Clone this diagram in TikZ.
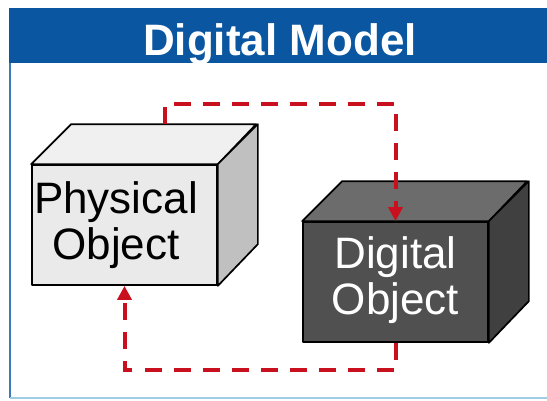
\documentclass[tikz,border=0pt]{standalone}
\usepackage{fontspec}
\setmainfont{Liberation Sans}
\usetikzlibrary{arrows.meta,calc}
\definecolor{headblue}{RGB}{10,86,160}
\definecolor{frameblue}{RGB}{60,120,190}
\definecolor{framelight}{RGB}{160,204,232}
\definecolor{linkred}{RGB}{200,16,30}
\definecolor{physfront}{RGB}{234,234,234}
\definecolor{phystop}{RGB}{240,240,240}
\definecolor{physside}{RGB}{192,192,192}
\definecolor{digfront}{RGB}{80,80,80}
\definecolor{digtop}{RGB}{108,108,108}
\definecolor{digside}{RGB}{64,64,64}
\tikzset{
  face/.style={draw=black, line width=1.7bp, line join=round},
  frontface/.style={face, minimum width=185bp, minimum height=120bp, inner sep=0pt},
  bodytext/.style={font=\fontsize{44bp}{46bp}\selectfont, align=center, inner sep=0pt},
  link/.style={draw=linkred, line width=4bp, dash pattern=on 17bp off 12bp,
               -{Triangle[width=14bp,length=14bp]}},
}
\begin{document}
\begin{tikzpicture}[x=1bp,y=-1bp]
\useasboundingbox (0,0) rectangle (547,400);
\fill[white] (0,0) rectangle (547,400);

% header band and frame
\fill[headblue] (9,8) rectangle (547,63);
\node[anchor=base, text=white, inner sep=0pt,
      font=\fontsize{44bp}{48bp}\selectfont\bfseries] (title) at (280,55) {Digital Model};
\draw[frameblue, line width=2bp] (10,63) -- (10,398);
\draw[framelight, line width=2bp] (10,398) -- (547,398);

% physical object cube
\node[frontface, fill=physfront] (phys) at (124.5,225) {};
\filldraw[face, fill=phystop] (phys.north west) -- ++(40bp,40bp) -- ++(185bp,0) -- (phys.north east) -- cycle;
\filldraw[face, fill=physside] (phys.north east) -- ++(40bp,40bp) -- ++(0,-120bp) -- (phys.south east) -- cycle;
\node[bodytext, text=black] (physlabel) at (116,225) {Physical\\Object};

% digital object cube
\node[frontface, fill=digfront] (dig) at (395.5,282) {};
\filldraw[face, fill=digtop] (dig.north west) -- ++(40bp,40bp) -- ++(185bp,0) -- (dig.north east) -- cycle;
\filldraw[face, fill=digside] (dig.north east) -- ++(40bp,40bp) -- ++(0,-120bp) -- (dig.south east) -- cycle;
\node[bodytext, text=white] (diglabel) at (395.5,280) {Digital\\Object};

% feedback loop
\coordinate (physback) at ($(phys.north)+(40bp,40bp)$);
\draw[link] (physback) -- ++(0,20bp) -| (dig.north);
\draw[link] (dig.south) -- ++(0,-27bp) -| (phys.south);
\end{tikzpicture}
\end{document}
